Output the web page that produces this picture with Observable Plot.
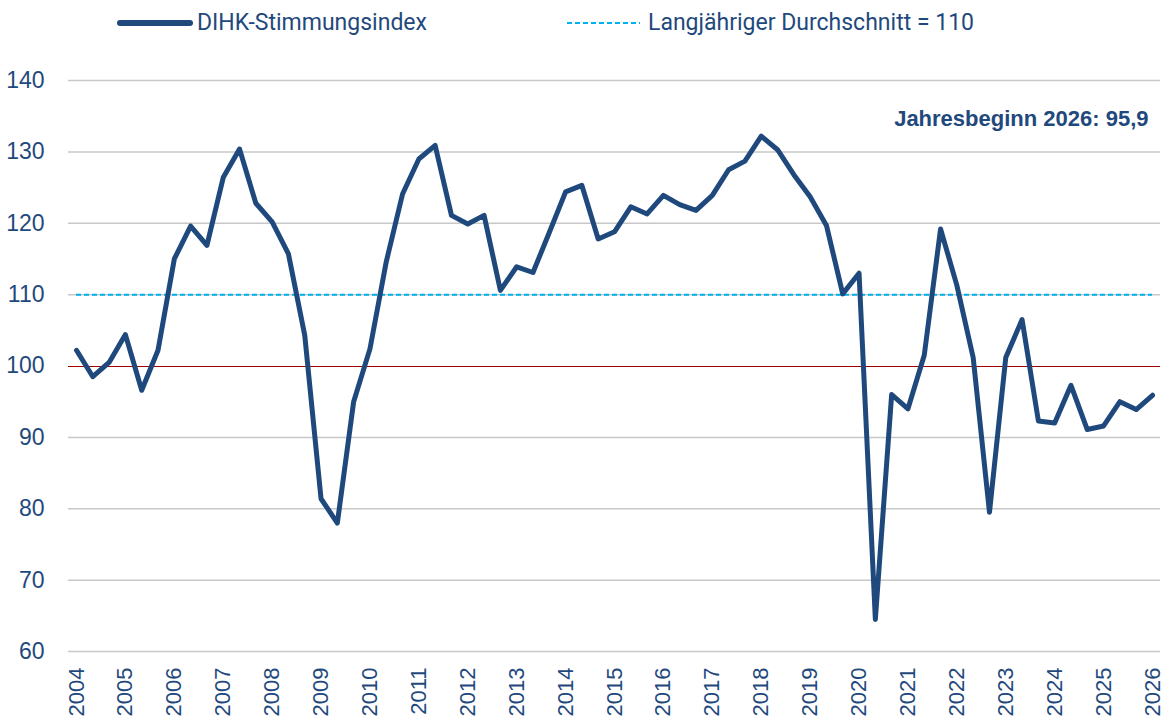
<!DOCTYPE html>
<html>
<head>
<meta charset="utf-8">
<script src="https://cdn.jsdelivr.net/npm/d3@7"></script>
<script src="https://cdn.jsdelivr.net/npm/@observablehq/plot@0.6"></script>
<style>
  html, body { margin: 0; padding: 0; background: #fff; }
  #legend { position: relative; height: 45px; width: 1164px; font-family: Roboto, "Liberation Sans", sans-serif; font-size: 23px; color: #1f497d; }
  #legend .item { position: absolute; top: 0; height: 45px; display: flex; align-items: center; }
  #legend svg { display: block; }
  #chart svg { display: block; }
</style>
</head>
<body>
<div id="legend"></div>
<div id="chart"></div>
<script>
// DIHK-Stimmungsindex, three surveys per year (early year, early summer, autumn)
const startYear = 2004;
const values = [
  102.2, 98.5, 100.5,   // 2004
  104.4, 96.6, 102.2,   // 2005
  115.0, 119.6, 116.9,  // 2006
  126.4, 130.4, 122.8,  // 2007
  120.2, 115.7, 104.3,  // 2008
  81.4, 78.0, 95.0,     // 2009
  102.4, 114.6, 124.1,  // 2010
  129.0, 130.9, 121.1,  // 2011
  119.9, 121.1, 110.6,  // 2012
  113.9, 113.1, 118.7,  // 2013
  124.4, 125.3, 117.8,  // 2014
  118.8, 122.3, 121.3,  // 2015
  123.9, 122.6, 121.8,  // 2016
  123.9, 127.5, 128.7,  // 2017
  132.2, 130.3, 126.8,  // 2018
  123.7, 119.7, 110.1,  // 2019
  113.0, 64.5, 96.0,    // 2020
  94.0, 101.5, 119.2,   // 2021
  111.3, 101.2, 79.5,   // 2022
  101.2, 106.5, 92.3,   // 2023
  92.0, 97.3, 91.1,     // 2024
  91.6, 95.0, 93.9,     // 2025
  95.9                  // 2026
];
const yearTicks = [2004,2005,2006,2007,2008,2009,2010,2011,2012,2013,2014,2015,2016,2017,2018,2019,2020,2021,2022,2023,2024,2025,2026];
const yTicks = [60, 70, 80, 90, 100, 110, 120, 130, 140];
const gridTicks = [60, 70, 80, 90, 110, 120, 130, 140];
const baseline = [100];
const average = [110];
const seriesLabel = "DIHK-Stimmungsindex";
const averageLabel = "Langjähriger Durchschnitt = 110";
const annotation = ["Jahresbeginn 2026: 95,9"];

const navy = "#1f497d";
const cyan = "#00b0f0";

const data = values.map((v, i) => ({t: startYear + i / 3, v}));

// Legend
const legend = document.getElementById("legend");
legend.innerHTML = `
  <div class="item" style="left:117px">
    <svg width="76" height="12"><line x1="3" y1="6" x2="73" y2="6" stroke="${navy}" stroke-width="6" stroke-linecap="round"/></svg>
    <span style="margin-left:4px">${seriesLabel}</span>
  </div>
  <div class="item" style="left:567px">
    <svg width="74" height="12"><line x1="0" y1="6" x2="73" y2="6" stroke="${cyan}" stroke-width="2" stroke-dasharray="5,3"/></svg>
    <span style="margin-left:7px">${averageLabel}</span>
  </div>`;

const chart = Plot.plot({
  width: 1164,
  height: 674,
  marginLeft: 68,
  marginRight: 4,
  marginTop: 35,
  marginBottom: 68,
  x: {domain: [2004, 2026], range: [76, 1152], label: null},
  y: {domain: [60, 140], label: null},
  style: {background: "#fff", color: navy, fontFamily: '"Liberation Sans", Arial, sans-serif', fontSize: "23px"},
  marks: [
    Plot.ruleY(gridTicks, {stroke: "#c8c8c8", strokeWidth: 1.5}),
    Plot.ruleY(baseline, {stroke: "#a00000", strokeWidth: 1, shapeRendering: "crispEdges"}),
    Plot.ruleY(average, {x1: 2004, x2: 2026, stroke: cyan, strokeWidth: 2, strokeDasharray: "5,3"}),
    Plot.lineY(data, {x: "t", y: "v", stroke: navy, strokeWidth: 5, strokeLinejoin: "round", strokeLinecap: "round"}),
    Plot.axisY({ticks: yTicks, label: null, tickSize: 0, tickPadding: 24, fontSize: 23, fill: navy}),
    Plot.axisX({ticks: yearTicks, label: null, tickFormat: d => String(d), tickRotate: -90, tickSize: 0, tickPadding: 16, fontSize: 22, fill: navy}),
    Plot.text(annotation, {frameAnchor: "top-right", dx: -12, dy: 45, lineAnchor: "bottom", textAnchor: "end", fontSize: 22, fontWeight: "bold", fill: navy})
  ]
});
document.getElementById("chart").appendChild(chart);
</script>
</body>
</html>
